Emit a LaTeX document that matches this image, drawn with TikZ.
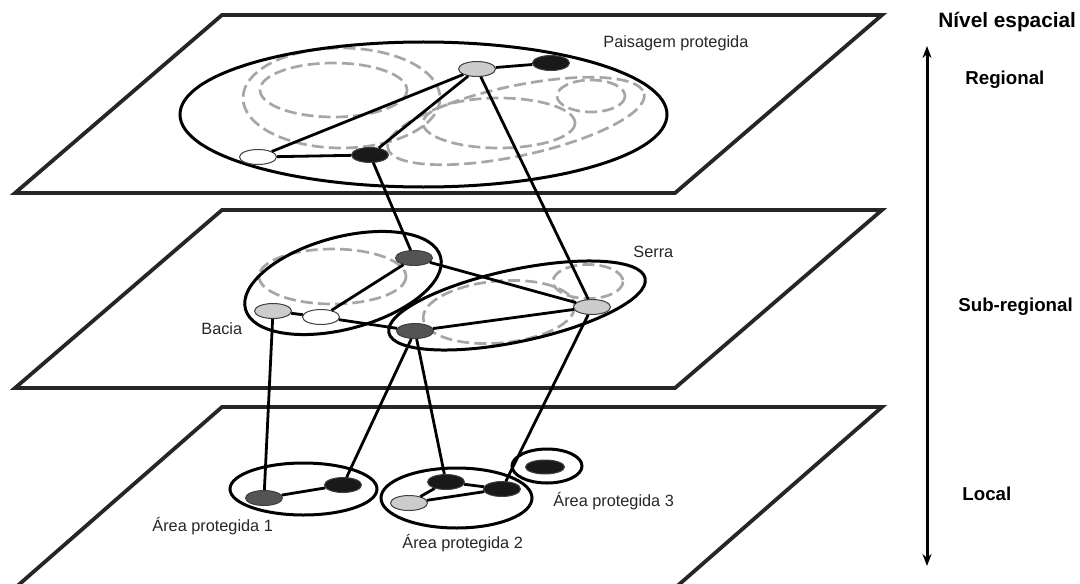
\documentclass[tikz,border=0pt]{standalone}
\usepackage{fontspec}
\setmainfont{Liberation Sans}
\usetikzlibrary{shapes.geometric,arrows.meta}
\begin{document}
\begin{tikzpicture}[x=0.5pt,y=-0.5pt,
  plane/.style={draw=black!85, line width=1.9pt, line join=miter},
  zone/.style={draw=black, line width=1.5pt},
  sub/.style={draw=black!35, line width=1.35pt, dash pattern=on 6pt off 2.6pt},
  link/.style={draw=black, line width=1.4pt},
  nd/.style={ellipse, draw=black!75, line width=0.5pt, minimum width=18.5pt, minimum height=7.5pt, inner sep=0pt},
  lg/.style={nd, fill=black!20},
  dg/.style={nd, fill=black!67},
  bk/.style={nd, fill=black!90},
  wh/.style={nd, fill=white},
  lbl/.style={font=\fontsize{8.15pt}{9pt}\selectfont, inner sep=0pt, anchor=base west, text=black!85},
  lvl/.style={font=\bfseries\fontsize{9.35pt}{10pt}\selectfont, inner sep=0pt, anchor=base west}
]
\useasboundingbox (0,0) rectangle (1080,583);

% planes
\draw[plane] (222,15) -- (882,15) -- (675,193) -- (15,193) -- cycle;
\draw[plane] (222,210) -- (882,210) -- (675,388) -- (15,388) -- cycle;
\draw[plane] (15,588) -- (222,407) -- (882,407) -- (675,588);

% regional level
\draw[sub] (341.5,98) ellipse [x radius=98.5, y radius=50];
\draw[sub] (333.5,90) ellipse [x radius=73.5, y radius=27];
\draw[sub, rotate around={12:(516,121)}] (516,121) ellipse [x radius=131, y radius=35];
\draw[sub] (499,123) ellipse [x radius=76, y radius=25];
\draw[sub] (591,96) ellipse [x radius=34, y radius=16];
\draw[zone] (423.5,114.5) ellipse [x radius=243.5, y radius=72.5];

% sub-regional level
\draw[sub] (332.5,276.5) ellipse [x radius=73.5, y radius=27.5];
\draw[sub, rotate around={5:(499,312)}] (499,312) ellipse [x radius=76, y radius=31];
\draw[sub] (588,281.5) ellipse [x radius=35, y radius=17];
\draw[zone, rotate around={15:(343,283)}] (343,283) ellipse [x radius=101, y radius=46];
\draw[zone, rotate around={12:(517,305.5)}] (517,305.5) ellipse [x radius=131, y radius=36];

% local level
\draw[zone] (303.5,489) ellipse [x radius=73.5, y radius=26];
\draw[zone] (456.5,498) ellipse [x radius=75.5, y radius=30];
\draw[zone] (547,466) ellipse [x radius=35, y radius=17];

% nodes
\node[lg] (A) at (477,69) {};
\node[bk] (B) at (551,63) {};
\node[wh] (C) at (258,157) {};
\node[bk] (D) at (370,155) {};

\node[dg] (M1) at (414,258) {};
\node[lg] (M2) at (273,311) {};
\node[wh] (M3) at (321,317) {};
\node[dg] (M4) at (415,331) {};
\node[lg] (M5) at (592,307) {};

\node[dg] (L1) at (264,498) {};
\node[bk] (L2) at (343,485) {};
\node[bk] (L3) at (446,482) {};
\node[bk] (L4) at (502,489) {};
\node[lg] (L5) at (409,503) {};
\node[bk, minimum width=19.5pt, minimum height=7pt] (L6) at (545,467) {};

% links
\draw[link] (A) -- (B);
\draw[link] (A) -- (C);
\draw[link] (A) -- (D);
\draw[link] (C) -- (D);
\draw[link] (D) -- (M1);
\draw[link] (A) -- (M5);

\draw[link] (M1) -- (M3);
\draw[link] (M1) -- (M5);
\draw[link] (M2) -- (M3);
\draw[link] (M3) -- (M4);
\draw[link] (M4) -- (M5);

\draw[link] (M2) -- (L1);
\draw[link] (M4) -- (L2);
\draw[link] (M4) -- (L3);
\draw[link] (M5) -- (L4);

\draw[link] (L1) -- (L2);
\draw[link] (L5) -- (L3);
\draw[link] (L5) -- (L4);
\draw[link] (L3) -- (L4);

% labels
\node[lbl] (tPais) at (603,47.5) {Paisagem protegida};
\node[lbl] (tBacia) at (201,334) {Bacia};
\node[lbl] (tSerra) at (633,257) {Serra};
\node[lbl] (tAP1) at (152,531.5) {Área protegida 1};
\node[lbl] (tAP2) at (402,548) {Área protegida 2};
\node[lbl] (tAP3) at (553,506.5) {Área protegida 3};

% scale axis
\coordinate (axtop) at (927,46);
\coordinate (axbot) at (927,566);
\draw[line width=1.5pt, {Stealth[length=6pt,width=4.5pt]}-{Stealth[length=6pt,width=4.5pt]}] (axtop) -- (axbot);
\node[lvl, font=\bfseries\fontsize{10.4pt}{11pt}\selectfont] (tNivel) at (938,27.3) {Nível espacial};
\node[lvl] (tReg) at (965,84) {Regional};
\node[lvl] (tSub) at (958,311) {Sub-regional};
\node[lvl] (tLoc) at (962,500) {Local};
\end{tikzpicture}
\end{document}
